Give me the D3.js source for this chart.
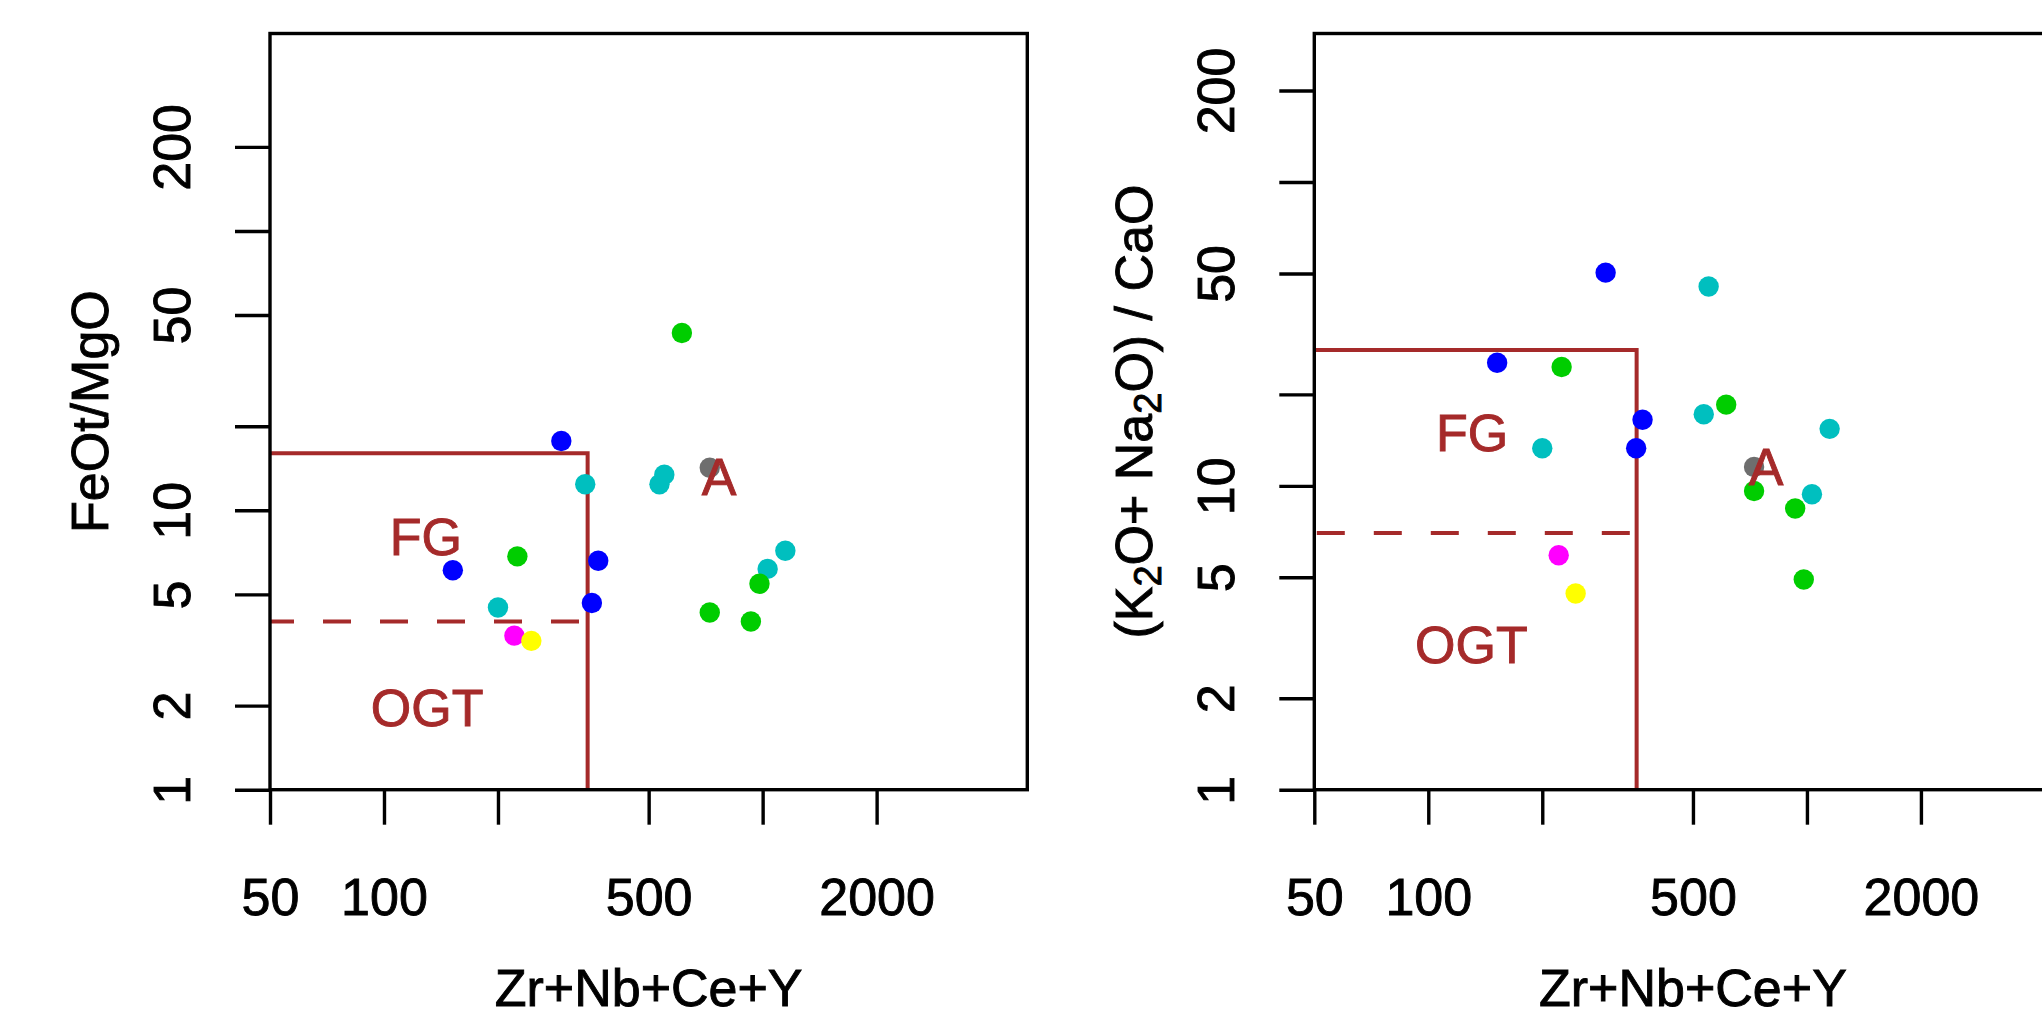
<!DOCTYPE html>
<html>
<head>
<meta charset="utf-8">
<script src="https://cdn.jsdelivr.net/npm/d3@7"></script>
<style>
  body { margin: 0; background: #ffffff; }
  svg { display: block; }
  text { font-family: "Liberation Sans", Arial, Helvetica, sans-serif; }
</style>
</head>
<body>
<svg id="chart" width="2042" height="1016"></svg>
<script>
// ---------------- data ----------------
const groupNames  = ["blue", "cyan", "green", "magenta", "yellow", "gray"];
const groupColors = ["#0000FF", "#00BFBF", "#00CD00", "#FF00FF", "#FFFF00", "#6E6E6E"];

// Zr+Nb+Ce+Y (ppm) per sample, grouped
const sumBlue    = [294, 152, 368, 354];
const sumCyan    = [340, 534, 550, 200, 1031, 1148];
const sumGreen   = [612, 225, 725, 931, 981];
const sumMagenta = [221];
const sumYellow  = [245];
const sumGray    = [725];

// FeOt/MgO
const feoBlue    = [17.7, 6.1, 6.6, 4.66];
const feoCyan    = [12.4, 12.4, 13.4, 4.49, 6.17, 7.17];
const feoGreen   = [43.1, 6.84, 4.31, 4.0, 5.46];
const feoMagenta = [3.56];
const feoYellow  = [3.41];
const feoGray    = [14.2];

// (K2O+Na2O)/CaO  (null = not plotted)
const alkBlue    = [50.3, 25.4, 16.5, 13.3];
const alkCyan    = [null, 17.2, 45.3, 13.3, 9.38, 15.4];
const alkGreen   = [18.5, 24.6, 9.62, 8.42, 4.92];
const alkMagenta = [5.91];
const alkYellow  = [4.42];
const alkGray    = [11.54];

// axes
const xTicks      = [50, 100, 200, 500, 1000, 2000];
const xTickLabels = ["50", "100", "", "500", "", "2000"];
const yTicks      = [1, 2, 5, 10, 20, 50, 100, 200];
const yTickLabels = ["1", "2", "5", "10", "", "50", "", "200"];
const xDomain     = [50, 5000];
const yDomainFe   = [1, 509];
const yDomainAlk  = [1, 308];

// field boundaries: [Zr+Nb+Ce+Y limit, A-type ratio limit, FG/OGT ratio limit]
const boundFe  = [345, 16, 4];
const boundAlk = [355, 28, 7];

// field labels: [text, x, y]
const fieldLabelsFe  = [["FG", 129, 8.1], ["OGT", 130, 1.98], ["A", 767, 13.27]];
const fieldLabelsAlk = [["FG", 130.5, 15.0], ["OGT", 130, 3.01], ["A", 780, 11.6]];

// ---------------- drawing ----------------
const svg = d3.select("#chart");
svg.append("rect").attr("width", 2042).attr("height", 1016).attr("fill", "#fff");

const FONT = 52;
const RED = "#A52A2A";
const TXT_STROKE = 0.9;

function panel(opt) {
  const x = d3.scaleLog().domain(xDomain).range([opt.left, opt.left + 757.3]);
  const y = d3.scaleLog().domain(opt.yDomain).range([789.7, 33.5]);
  const g = svg.append("g");

  // boundaries
  const [bx, bSolid, bDash] = opt.bounds;
  g.append("path")
    .attr("d", `M${x(xDomain[0])},${y(bSolid)} H${x(bx)} V${y(1)}`)
    .attr("fill", "none").attr("stroke", RED).attr("stroke-width", 4);
  g.append("line")
    .attr("x1", x(xDomain[0])).attr("x2", x(bx))
    .attr("y1", y(bDash)).attr("y2", y(bDash))
    .attr("stroke", RED).attr("stroke-width", 4)
    .attr("stroke-dasharray", "28,29")
    .attr("stroke-dashoffset", opt.dashOffset);

  // points
  const sums = [sumBlue, sumCyan, sumGreen, sumMagenta, sumYellow, sumGray];
  opt.values.forEach((vals, gi) => {
    const pts = vals.map((v, i) => ({ x: sums[gi][i], y: v })).filter(d => d.y != null);
    g.append("g").selectAll("circle").data(pts).join("circle")
      .attr("cx", d => x(d.x)).attr("cy", d => y(d.y)).attr("r", 10.2)
      .attr("fill", groupColors[gi]);
  });

  // field labels
  g.selectAll("text.field").data(opt.labels).join("text")
    .attr("class", "field")
    .attr("x", d => x(d[1])).attr("y", d => y(d[2]))
    .attr("dy", "0.36em")
    .attr("text-anchor", "middle")
    .attr("font-size", FONT)
    .attr("fill", RED).attr("stroke", RED).attr("stroke-width", TXT_STROKE)
    .text(d => d[0]);

  // frame
  g.append("rect")
    .attr("x", x(xDomain[0])).attr("y", y(opt.yDomain[1]))
    .attr("width", x(xDomain[1]) - x(xDomain[0]))
    .attr("height", y(1) - y(opt.yDomain[1]))
    .attr("fill", "none").attr("stroke", "#000").attr("stroke-width", 3.4);

  // x axis
  const xa = g.append("g").attr("transform", `translate(0,${y(1)})`)
    .call(d3.axisBottom(x).tickValues(xTicks).tickSize(35).tickSizeOuter(0)
      .tickFormat((d, i) => xTickLabels[i]));
  xa.select(".domain").remove();
  xa.selectAll(".tick line").attr("stroke", "#000").attr("stroke-width", 3.4);
  xa.selectAll(".tick text").attr("y", 125).attr("dy", 0)
    .attr("font-size", FONT).attr("fill", "#000")
    .attr("stroke", "#000").attr("stroke-width", TXT_STROKE)
    .attr("font-family", "Liberation Sans, Arial, sans-serif");

  // y axis
  const ya = g.append("g").attr("transform", `translate(${x(xDomain[0])},0)`)
    .call(d3.axisLeft(y).tickValues(yTicks).tickSize(35).tickSizeOuter(0)
      .tickFormat((d, i) => yTickLabels[i]));
  ya.select(".domain").remove();
  ya.selectAll(".tick line").attr("stroke", "#000").attr("stroke-width", 3.4);
  ya.selectAll(".tick text")
    .attr("transform", "rotate(-90)")
    .attr("x", 0).attr("y", -80).attr("dy", 0)
    .attr("text-anchor", "middle")
    .attr("font-size", FONT).attr("fill", "#000")
    .attr("stroke", "#000").attr("stroke-width", TXT_STROKE)
    .attr("font-family", "Liberation Sans, Arial, sans-serif");

  // x title
  g.append("text")
    .attr("x", (x(xDomain[0]) + x(xDomain[1])) / 2).attr("y", 1006)
    .attr("text-anchor", "middle").attr("font-size", FONT).attr("fill", "#000")
    .attr("stroke", "#000").attr("stroke-width", TXT_STROKE)
    .text("Zr+Nb+Ce+Y");

  // y title
  const yt = g.append("text")
    .attr("transform", `translate(${x(xDomain[0]) - 162},${(y(1) + y(opt.yDomain[1])) / 2}) rotate(-90)`)
    .attr("text-anchor", "middle").attr("font-size", FONT).attr("fill", "#000")
    .attr("stroke", "#000").attr("stroke-width", TXT_STROKE);
  opt.yTitle(yt);
}

panel({
  left: 270,
  yDomain: yDomainFe,
  bounds: boundFe,
  dashOffset: 4,
  values: [feoBlue, feoCyan, feoGreen, feoMagenta, feoYellow, feoGray],
  labels: fieldLabelsFe,
  yTitle: t => t.text("FeOt/MgO")
});

panel({
  left: 1314.3,
  yDomain: yDomainAlk,
  bounds: boundAlk,
  dashOffset: 54.5,
  values: [alkBlue, alkCyan, alkGreen, alkMagenta, alkYellow, alkGray],
  labels: fieldLabelsAlk,
  yTitle: t => {
    t.append("tspan").text("(K");
    t.append("tspan").attr("font-size", 38).attr("dy", 9).text("2");
    t.append("tspan").attr("dy", -9).text("O+ Na");
    t.append("tspan").attr("font-size", 38).attr("dy", 9).text("2");
    t.append("tspan").attr("dy", -9).text("O) / CaO");
  }
});
</script>
</body>
</html>
